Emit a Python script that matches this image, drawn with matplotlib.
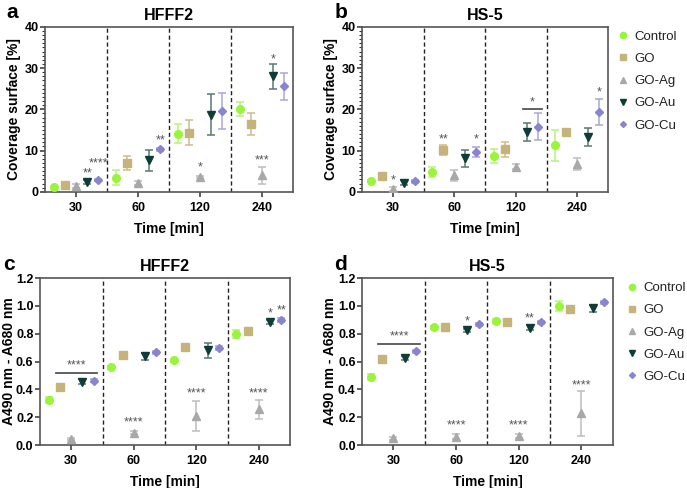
import matplotlib
matplotlib.use("Agg")
import matplotlib.pyplot as plt
from matplotlib.ticker import AutoMinorLocator, MultipleLocator, FormatStrFormatter
from matplotlib.lines import Line2D

plt.rcParams["font.family"] = ["Liberation Sans", "DejaVu Sans"]

# ------------------------
# data
# ------------------------
times = ["30", "60", "120", "240"]
series = ["Control", "GO", "GO-Ag", "GO-Au", "GO-Cu"]

# coverage surface [%], HFFF2
a_mean = [[1.1, 3.4, 14.1, 20.0],
          [1.6, 7.0, 14.3, 16.4],
          [1.4, 2.1, 3.6, 4.0],
          [2.3, 7.6, 18.7, 28.0],
          [2.8, 10.3, 19.6, 25.6]]
a_err = [[0.3, 1.8, 2.3, 1.7],
         [0.3, 1.6, 3.0, 2.7],
         [0.4, 0.5, 0.3, 2.1],
         [0.5, 2.5, 5.0, 3.0],
         [0.3, 0.3, 4.4, 3.3]]
# (time index, series index, text, y)
a_stars = [(0, 3, "**", 4.4), (0, 4, "****", 6.9), (1, 4, "**", 12.5),
           (2, 2, "*", 5.8), (3, 2, "***", 7.6), (3, 3, "*", 32.2)]
a_brackets = []

# coverage surface [%], HS-5
b_mean = [[2.6, 4.9, 8.6, 11.3],
          [3.9, 10.1, 10.3, 14.5],
          [0.7, 4.0, 6.1, 6.8],
          [2.2, 8.1, 14.5, 13.3],
          [2.5, 9.7, 15.8, 19.3]]
b_err = [[0.3, 1.2, 1.7, 3.8],
         [0.6, 1.3, 1.8, 0.5],
         [0.5, 1.3, 0.6, 1.4],
         [0.6, 2.0, 2.1, 2.2],
         [0.3, 1.2, 3.2, 3.2]]
b_stars = [(0, 2, "*", 2.7), (1, 1, "**", 12.8), (1, 4, "*", 12.8),
           (3, 4, "*", 24.0)]
# (time index, first series, last series, line y, text, text y)
b_brackets = [(2, 3, 4, 20.0, "*", 21.7)]

# A490 nm - A680 nm, HFFF2
c_mean = [[0.324, 0.56, 0.61, 0.80],
          [0.42, 0.645, 0.708, 0.823],
          [0.043, 0.089, 0.21, 0.257],
          [0.456, 0.64, 0.68, 0.883],
          [0.463, 0.667, 0.70, 0.90]]
c_err = [[0.025, 0.01, 0.01, 0.03],
         [0.01, 0.01, 0.01, 0.01],
         [0.008, 0.012, 0.11, 0.07],
         [0.02, 0.025, 0.055, 0.015],
         [0.012, 0.012, 0.015, 0.015]]
c_stars = [(1, 2, "****", 0.16), (2, 2, "****", 0.372), (3, 2, "****", 0.372),
           (3, 3, "*", 0.943), (3, 4, "**", 0.967)]
c_brackets = [(0, 1, 4, 0.52, "****", 0.57)]

# A490 nm - A680 nm, HS-5
d_mean = [[0.49, 0.847, 0.89, 0.998],
          [0.616, 0.852, 0.883, 0.98],
          [0.048, 0.06, 0.067, 0.227],
          [0.628, 0.826, 0.845, 0.985],
          [0.673, 0.869, 0.883, 1.026]]
d_err = [[0.02, 0.01, 0.015, 0.035],
         [0.01, 0.01, 0.01, 0.01],
         [0.01, 0.02, 0.015, 0.16],
         [0.015, 0.012, 0.02, 0.025],
         [0.012, 0.012, 0.012, 0.012]]
d_stars = [(1, 2, "****", 0.138), (1, 3, "*", 0.89), (2, 2, "****", 0.138),
           (2, 3, "**", 0.909), (3, 2, "****", 0.432)]
d_brackets = [(0, 1, 4, 0.73, "****", 0.783)]

# ------------------------
# style
# ------------------------
colors = ["#99f53a", "#c6b37c", "#a8a8a8", "#0d3d36", "#8884cf"]
ecolors = ["#b8f27f", "#cdbd8c", "#bdbdbd", "#5c7772", "#a9a6dd"]
markers = ["o", "s", "^", "v", "D"]
msizes = [5.5, 5.5, 5.5, 5.5, 4.0]
offsets = [-0.36, -0.18, 0.0, 0.18, 0.36]
star_col = "#555555"


def draw_panel(ax, mean, err, stars, brackets, ymax, ystep, ylabel, title,
               minor, fmt, ylab_x):
    for s in range(len(series)):
        xs = [t + offsets[s] for t in range(len(times))]
        ax.errorbar(xs, mean[s], yerr=err[s], fmt=markers[s], color=colors[s],
                    ms=msizes[s], ecolor=ecolors[s], elinewidth=1.1,
                    capsize=3, capthick=1.1, zorder=3)
    for sep in [0.5, 1.5, 2.5]:
        ax.axvline(sep, color="#222222", ls=(0, (3, 2)), lw=1.0, zorder=1)
    for t, s, txt, y in stars:
        ax.text(t + offsets[s], y, txt, ha="center", va="center",
                fontsize=9, color=star_col)
    for t, s0, s1, ly, txt, ty in brackets:
        ax.plot([t + offsets[s0] - 0.06, t + offsets[s1] + 0.06], [ly, ly],
                color="#555555", lw=1.3)
        ax.text(t + (offsets[s0] + offsets[s1]) / 2, ty, txt, ha="center",
                va="center", fontsize=9, color=star_col)
    ax.set_xlim(-0.5, 3.5)
    ax.set_ylim(0, ymax)
    ax.yaxis.set_major_locator(MultipleLocator(ystep))
    ax.yaxis.set_major_formatter(FormatStrFormatter(fmt))
    if minor:
        ax.yaxis.set_minor_locator(AutoMinorLocator(10))
    ax.set_xticks(range(len(times)))
    ax.set_xticklabels(times)
    for lab in ax.get_xticklabels() + ax.get_yticklabels():
        lab.set_fontweight("bold")
        lab.set_fontsize(9)
    ax.tick_params(colors="#333333", labelcolor="black", width=1.1, length=3.5)
    ax.tick_params(axis="y", pad=1.2)
    ax.tick_params(which="minor", length=2.2, width=0.8, colors="#333333")
    for sp in ax.spines.values():
        sp.set_color("#555555")
        sp.set_linewidth(1.2)
    ax.set_xlabel("Time [min]", fontsize=10, fontweight="bold", labelpad=6)
    ax.set_ylabel(ylabel, fontsize=10, fontweight="bold")
    ax.yaxis.set_label_coords(ylab_x, 0.5)
    ax.set_title(title, fontsize=11.5, fontweight="bold", pad=5)


fig = plt.figure(figsize=(6.87, 4.88), dpi=100)
ax_a = fig.add_axes([0.0655, 0.607, 0.361, 0.338])
ax_b = fig.add_axes([0.527, 0.607, 0.358, 0.338])
ax_c = fig.add_axes([0.0582, 0.088, 0.364, 0.342])
ax_d = fig.add_axes([0.527, 0.088, 0.365, 0.342])

draw_panel(ax_a, a_mean, a_err, a_stars, a_brackets, 40, 10,
           "Coverage surface [%]", "HFFF2", True, "%d", -0.097)
draw_panel(ax_b, b_mean, b_err, b_stars, b_brackets, 40, 10,
           "Coverage surface [%]", "HS-5", True, "%d", -0.098)
draw_panel(ax_c, c_mean, c_err, c_stars, c_brackets, 1.2, 0.2,
           "A490 nm - A680 nm", "HFFF2", False, "%.1f", -0.096)
draw_panel(ax_d, d_mean, d_err, d_stars, d_brackets, 1.2, 0.2,
           "A490 nm - A680 nm", "HS-5", False, "%.1f", -0.098)

for lbl, x, y in [("a", 0.01, 0.993), ("b", 0.487, 0.993),
                  ("c", 0.005, 0.478), ("d", 0.487, 0.478)]:
    fig.text(x, y, lbl, fontsize=15, fontweight="bold", va="top")

handles = [Line2D([], [], ls="none", marker=markers[s], color=colors[s],
                  ms=msizes[s] - 1.0) for s in range(len(series))]
for anchor in [(0.899, 0.937), (0.912, 0.422)]:
    fig.legend(handles, series, loc="upper left", bbox_to_anchor=anchor,
               frameon=False, fontsize=9.5, handlelength=0.8,
               handletextpad=0.5, labelspacing=0.75, borderaxespad=0,
               borderpad=0, labelcolor="#222222")

fig.savefig("out.png", dpi=100)
